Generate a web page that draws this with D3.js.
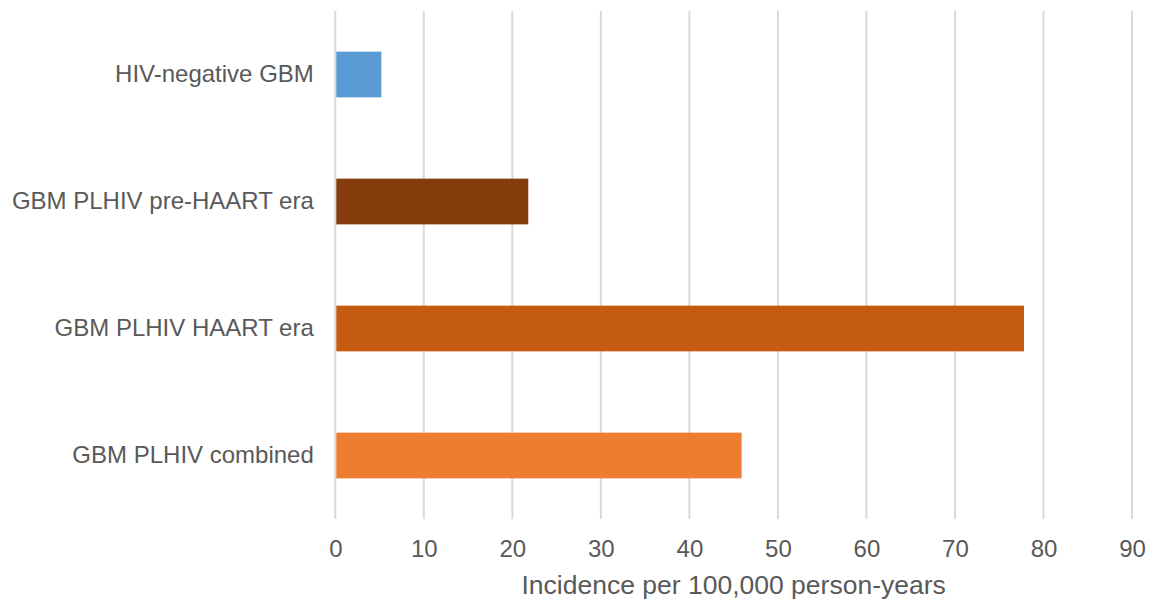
<!DOCTYPE html>
<html>
<head>
<meta charset="utf-8">
<script src="https://cdn.jsdelivr.net/npm/d3@7"></script>
<style>
  html, body { margin: 0; padding: 0; background: #fff; }
  svg { display: block; font-family: "Liberation Sans", Arial, sans-serif; }
</style>
</head>
<body>
<svg id="chart" width="1153" height="602"></svg>
<script>
// Incidence of glioblastoma (per 100,000 person-years) by group
const categories = [
  "HIV-negative GBM",
  "GBM PLHIV pre-HAART era",
  "GBM PLHIV HAART era",
  "GBM PLHIV combined"
];
const values = [5.2, 21.8, 77.8, 45.9];
const barColors = ["#5b9bd5", "#843c0c", "#c55a11", "#ed7d31"];
const tickValues = [0, 10, 20, 30, 40, 50, 60, 70, 80, 90];
const axisTitle = "Incidence per 100,000 person-years";

const svg = d3.select("#chart");
const margin = { left: 335.3, right: 21, top: 11, bottom: 83 };
const width = 1153, height = 602;

const x = d3.scaleLinear()
  .domain([0, 90])
  .range([margin.left, width - margin.right]);

const y = d3.scaleBand()
  .domain(categories)
  .range([margin.top, height - margin.bottom])
  .paddingInner(0.64)
  .paddingOuter(0.32);

// vertical gridlines
svg.append("g")
  .selectAll("line")
  .data(tickValues)
  .join("line")
  .attr("x1", d => x(d))
  .attr("x2", d => x(d))
  .attr("y1", margin.top)
  .attr("y2", height - margin.bottom)
  .attr("stroke", "#d9d9d9")
  .attr("stroke-width", 2);

// bars
svg.append("g")
  .selectAll("rect")
  .data(values)
  .join("rect")
  .attr("x", x(0) + 1)
  .attr("y", (d, i) => y(categories[i]))
  .attr("width", d => x(d) - x(0) - 1)
  .attr("height", y.bandwidth())
  .attr("fill", (d, i) => barColors[i]);

// x axis tick labels
const xAxis = d3.axisBottom(x)
  .tickValues(tickValues)
  .tickSize(0)
  .tickPadding(0);
const gx = svg.append("g")
  .attr("transform", "translate(0,540.3)")
  .call(xAxis);
gx.select(".domain").remove();
gx.selectAll("text")
  .attr("font-size", 24)
  .attr("font-family", "Liberation Sans, Arial, sans-serif")
  .attr("fill", "#595959")
  .attr("dy", "0.71em");

// category labels
const yAxis = d3.axisLeft(y).tickSize(0).tickPadding(21.5);
const gy = svg.append("g")
  .attr("transform", `translate(${margin.left},0)`)
  .call(yAxis);
gy.select(".domain").remove();
gy.selectAll("text")
  .attr("font-size", 24)
  .attr("font-family", "Liberation Sans, Arial, sans-serif")
  .attr("fill", "#595959");

// axis title
svg.append("text")
  .attr("x", (x(0) + x(90)) / 2)
  .attr("y", 594)
  .attr("text-anchor", "middle")
  .attr("font-size", 26.5)
  .attr("fill", "#595959")
  .text(axisTitle);
</script>
</body>
</html>
